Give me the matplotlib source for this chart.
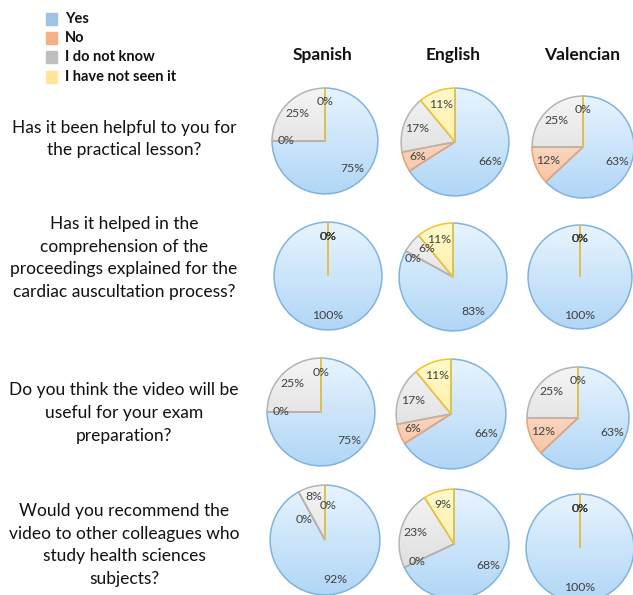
import numpy as np
import matplotlib
matplotlib.use("Agg")
import matplotlib.pyplot as plt
from matplotlib.colors import LinearSegmentedColormap

plt.rcParams['font.family'] = ['Lato', 'DejaVu Sans']

categories = ["Yes", "No", "I do not know", "I have not seen it"]
languages = ["Spanish", "English", "Valencian"]
questions = [
    "Has it been helpful to you for\nthe practical lesson?",
    "Has it helped in the\ncomprehension of the\nproceedings explained for the\ncardiac auscultation process?",
    "Do you think the video will be\nuseful for your exam\npreparation?",
    "Would you recommend the\nvideo to other colleagues who\nstudy health sciences\nsubjects?",
]

# percent per category (Yes, No, Don't know, Not seen) for each question
spanish = [[75, 0, 25, 0], [100, 0, 0, 0], [75, 0, 25, 0], [92, 0, 8, 0]]
english = [[66, 6, 17, 11], [83, 0, 6, 11], [66, 6, 17, 11], [68, 0, 23, 9]]
valencian = [[63, 12, 25, 0], [100, 0, 0, 0], [63, 12, 25, 0], [100, 0, 0, 0]]
data = [spanish, english, valencian]

legend_colors = ["#9dc3e6", "#f4b183", "#bfbfbf", "#ffe699"]
grad_top = ["#e8f4fe", "#fdeadf", "#f5f5f5", "#fff9cc"]
grad_bottom = ["#b0d6f6", "#f6c09c", "#d6d6d6", "#ffea88"]
edge_colors = ["#80b3e0", "#eea070", "#b4b4b4", "#f0c330"]

W, H = 633, 595
fig = plt.figure(figsize=(W / 100, H / 100), dpi=100)

# pie centres / radii in pixels, per row and column
pie_geom = [
    [(325, 141, 54), (455, 142, 55), (583, 147, 52)],
    [(328, 276, 55), (453, 277, 55), (580, 277, 53)],
    [(321, 412, 55), (451, 414, 56), (578, 418, 52)],
    [(325, 540, 56), (454, 544, 56), (580, 548, 55)],
]
question_y = [139, 258, 413, 545]
header_x = [323, 453, 582]

# label nudges where slices crowd together: (row, col, slice) -> (distance, angle shift deg)
label_tweak = {
    (1, 1, 1): (0.82, 4),
    (1, 1, 2): (0.72, -7),
    (3, 0, 1): (0.54, 17),
    (3, 0, 2): (0.82, 0),
    (3, 0, 3): (0.63, -5),
}

grad = np.linspace(0, 1, 256).reshape(-1, 1)

for row in range(4):
    for col in range(3):
        cx, cy, r = pie_geom[row][col]
        ax = fig.add_axes([(cx - r) / W, 1 - (cy + r) / H, 2 * r / W, 2 * r / H])
        vals = data[col][row]
        wedges, texts = ax.pie(
            vals, startangle=90, counterclock=False, radius=1,
            labels=[f"{v}%" for v in vals], labeldistance=0.74,
            wedgeprops=dict(linewidth=1.1), normalize=True,
            textprops=dict(fontsize=8.8, color="#404040", ha="center", va="center"),
        )
        for i, w in enumerate(wedges):
            w.set_facecolor("none")
            w.set_edgecolor(edge_colors[i])
            w.set_zorder(3)
            w.set_clip_on(False)
            if vals[i] > 0:
                cmap = LinearSegmentedColormap.from_list("g", [grad_bottom[i], grad_top[i]])
                im = ax.imshow(grad, extent=(-1, 1, -1, 1), origin="lower",
                               cmap=cmap, aspect="auto", zorder=1, interpolation="bilinear")
                im.set_clip_path(w)
        for i, t in enumerate(texts):
            t.set_zorder(5)
            if (row, col, i) in label_tweak:
                dist, dang = label_tweak[(row, col, i)]
                w = wedges[i]
                ang = np.deg2rad((w.theta1 + w.theta2) / 2 + dang)
                t.set_position((dist * np.cos(ang), dist * np.sin(ang)))
        ax.set_xlim(-1.02, 1.02)
        ax.set_ylim(-1.02, 1.02)
        ax.axis("off")

for i, lang in enumerate(languages):
    fig.text(header_x[i] / W, 1 - 55 / H, lang, fontsize=12.5, fontweight="bold",
             ha="center", va="center", color="#111111")

for i, q in enumerate(questions):
    fig.text(124 / W, 1 - question_y[i] / H, q, fontsize=12.5, ha="center", va="center",
             linespacing=1.5, color="#111111")

legend_y = [19, 38, 57, 77]
for i, cat in enumerate(categories):
    y = legend_y[i]
    fig.patches.append(plt.Rectangle((46 / W, 1 - (y + 5.5) / H), 11 / W, 11 / H,
                                     transform=fig.transFigure, color=legend_colors[i]))
    fig.text(65 / W, 1 - y / H, cat, fontsize=10.5, fontweight="bold", ha="left",
             va="center", color="#111111")

fig.savefig("out.png", dpi=100)
